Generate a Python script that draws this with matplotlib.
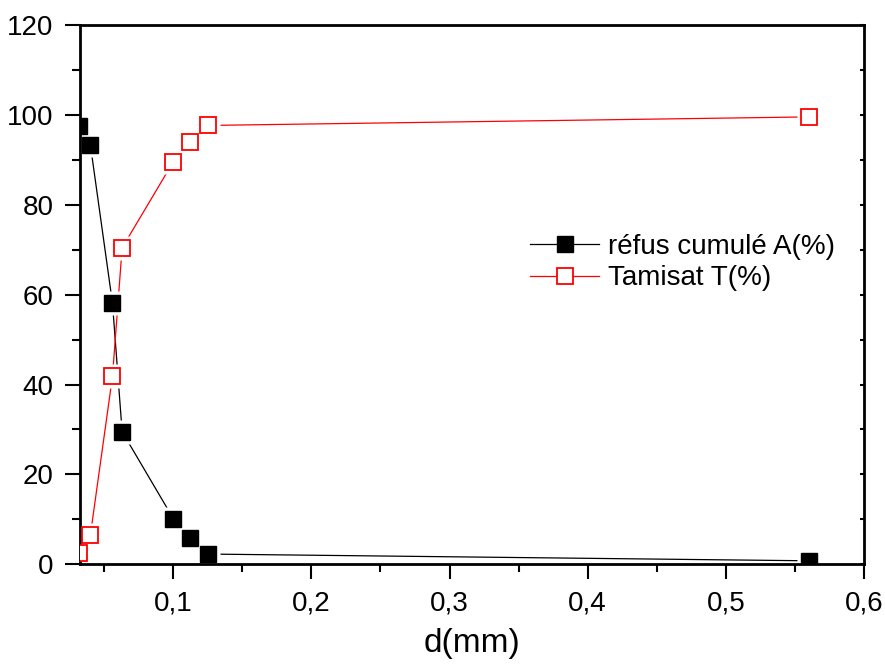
import numpy as np
import matplotlib.pyplot as plt
from matplotlib.lines import Line2D
from matplotlib.ticker import MultipleLocator, FuncFormatter

plt.rcParams['font.family'] = ['Liberation Sans', 'DejaVu Sans']

# grain size d (mm)
d = [0.032, 0.040, 0.056, 0.063, 0.100, 0.112, 0.125, 0.560]
# refus cumule A(%)
refus = [97.4, 93.3, 58.1, 29.5, 10.2, 5.9, 2.3, 0.8]
# tamisat T(%)
tamisat = [2.6, 6.5, 41.8, 70.4, 89.5, 93.9, 97.6, 99.5]

fig = plt.figure(figsize=(8.85, 6.64), dpi=100)
ax = fig.add_axes([0.0904, 0.150, 0.8859, 0.8128])

# lines first, then a white halo round each point (origin-like gaps), then markers
ax.plot(d, refus, color='black', linewidth=0.9, zorder=2)
ax.plot(d, tamisat, color='red', linewidth=0.9, zorder=2)
for y in (refus, tamisat):
    ax.plot(d, y, linestyle='none', marker='s', markersize=17,
            markerfacecolor='white', markeredgecolor='none', zorder=2.5)
ax.plot(d, refus, linestyle='none', marker='s', markersize=11.5,
        markerfacecolor='black', markeredgecolor='black', zorder=3)
ax.plot(d, tamisat, linestyle='none', marker='s', markersize=11,
        markerfacecolor='white', markeredgecolor='red', markeredgewidth=1.3, zorder=3)

ax.set_xlim(0.0325, 0.6)
ax.set_ylim(0, 120)

ax.xaxis.set_major_locator(MultipleLocator(0.1))
ax.xaxis.set_minor_locator(MultipleLocator(0.05))
ax.yaxis.set_major_locator(MultipleLocator(20))
ax.yaxis.set_minor_locator(MultipleLocator(10))
ax.xaxis.set_major_formatter(FuncFormatter(lambda v, p: ('%g' % round(v, 2)).replace('.', ',')))
ax.yaxis.set_major_formatter(FuncFormatter(lambda v, p: '%d' % v))

ax.tick_params(which='major', direction='out', length=11, width=1.5, labelsize=20, pad=8)
ax.tick_params(which='minor', direction='out', length=6, width=1.5)
ax.tick_params(top=False, right=False, which='both')

for s in ax.spines.values():
    s.set_linewidth(2)

# inward ticks on the right side, no labels
sec = ax.secondary_yaxis('right')
sec.yaxis.set_major_locator(MultipleLocator(10))
sec.tick_params(direction='in', length=3, width=1.5, labelright=False)

ax.set_xlabel('d(mm)', fontsize=24, labelpad=8)

handles = [
    Line2D([], [], color='black', linewidth=0.9, marker='s', markersize=11.5,
           markerfacecolor='black', markeredgecolor='black'),
    Line2D([], [], color='red', linewidth=0.9, marker='s', markersize=11,
           markerfacecolor='white', markeredgecolor='red', markeredgewidth=1.3),
]
ax.legend(handles, ['réfus cumulé A(%)', 'Tamisat T(%)'],
          loc='center left', bbox_to_anchor=(0.574, 0.559), frameon=False, fontsize=20,
          borderpad=0, borderaxespad=0, handlelength=2.5, handletextpad=0.3,
          labelspacing=0.2)

fig.savefig('out.png')
